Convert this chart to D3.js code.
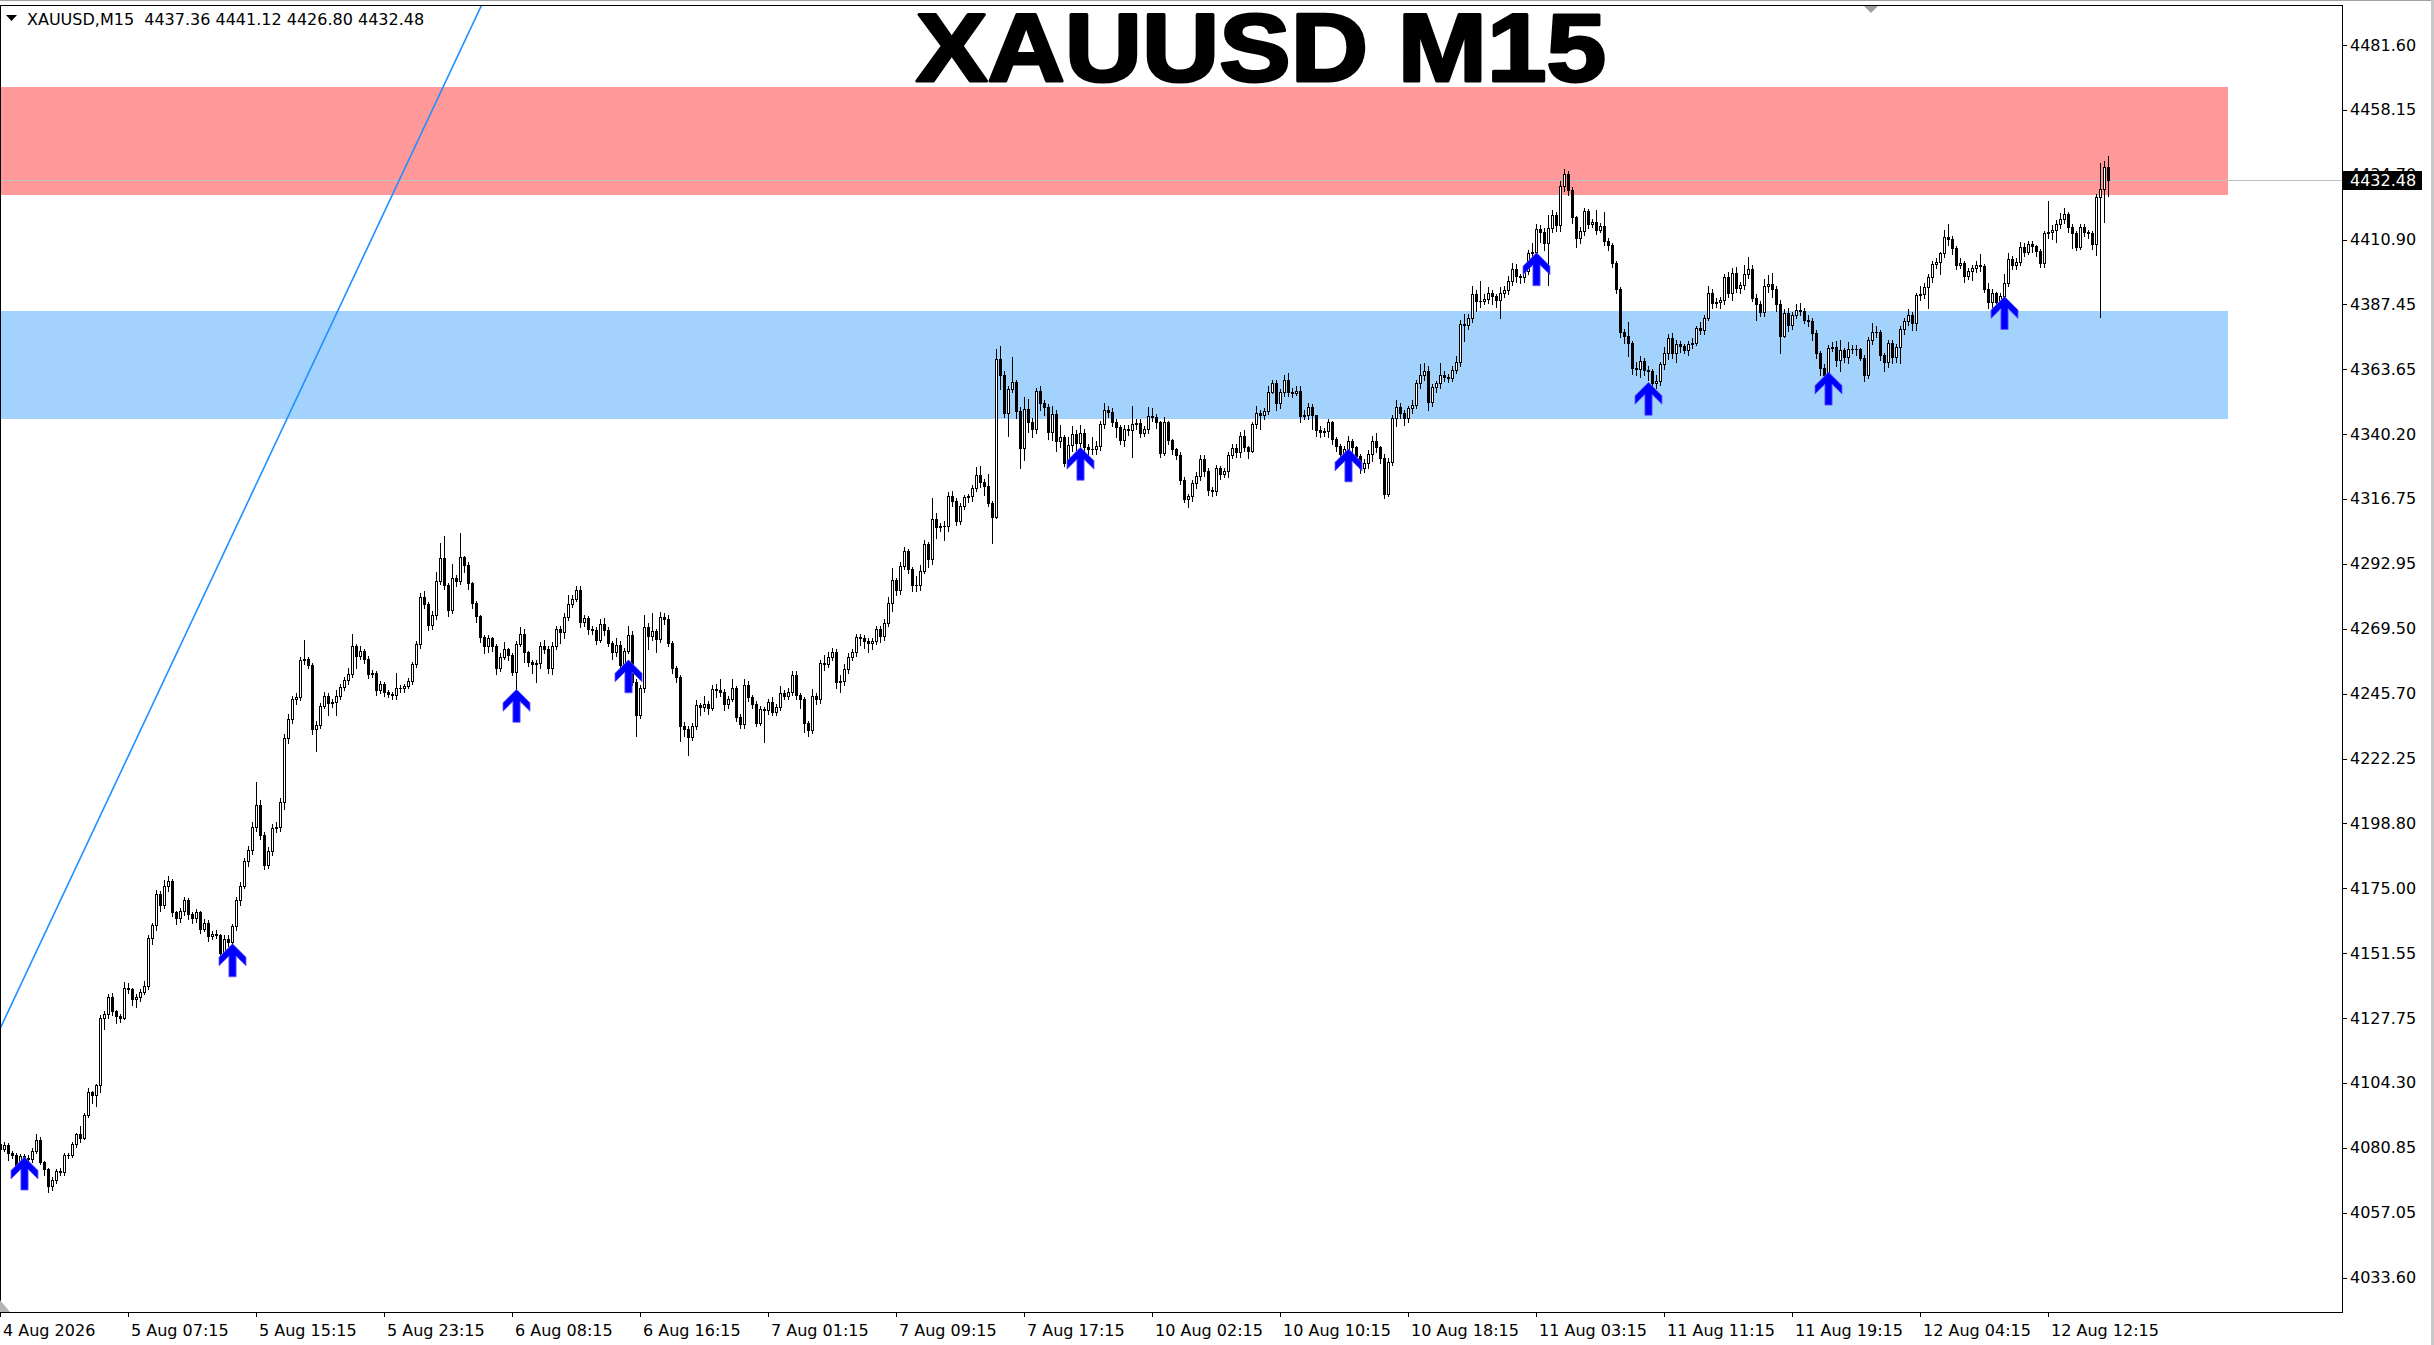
<!DOCTYPE html>
<html><head><meta charset="utf-8">
<script src="https://cdn.jsdelivr.net/npm/d3@7"></script>
<style>body{margin:0;background:#fff;overflow:hidden}</style>
</head><body>
<svg id="c" width="2434" height="1345"></svg>
<script>
const symbolInfo = "XAUUSD,M15  4437.36 4441.12 4426.80 4432.48";
const chartTitle = "XAUUSD M15";
const timeLabels = ["4 Aug 2026","5 Aug 07:15","5 Aug 15:15","5 Aug 23:15","6 Aug 08:15","6 Aug 16:15","7 Aug 01:15","7 Aug 09:15","7 Aug 17:15","10 Aug 02:15","10 Aug 10:15","10 Aug 18:15","11 Aug 03:15","11 Aug 11:15","11 Aug 19:15","12 Aug 04:15","12 Aug 12:15"];
const timeTickBars = [0,32,64,96,128,160,192,224,256,288,320,352,384,416,448,480,512];
const priceTicks = [4481.60,4458.15,4434.70,4410.90,4387.45,4363.65,4340.20,4316.75,4292.95,4269.50,4245.70,4222.25,4198.80,4175.00,4151.55,4127.75,4104.30,4080.85,4057.05,4033.60];
const lastPrice = 4432.48;
const firstOpen = 4082.3;
const closes = [
4080.3,4081.6,4078.9,4078.2,4074.2,4077.6,4076.9,4076.5,4079.6,4083.6,
4075.6,4072.9,4066.8,4069.2,4072.2,4071.8,4078.2,4078.0,4082.3,4085.6,
4084.3,4092.8,4101.1,4099.8,4103.4,4128.0,4129.4,4135.7,4130.3,4128.7,
4128.0,4138.8,4138.5,4134.7,4135.4,4137.4,4139.4,4156.9,4161.6,4173.1,
4169.0,4175.8,4177.8,4166.3,4164.3,4166.7,4170.8,4165.7,4164.3,4166.3,
4160.3,4162.5,4157.6,4158.3,4158.0,4151.5,4156.7,4155.6,4161.2,4170.7,
4176.0,4184.9,4188.9,4197.5,4205.4,4194.6,4183.6,4188.5,4197.0,4197.5,
4206.4,4229.6,4236.6,4243.7,4244.6,4258.1,4258.5,4256.2,4232.9,4234.3,
4241.4,4244.9,4242.3,4242.7,4245.0,4248.4,4250.8,4253.1,4263.2,4259.4,
4261.2,4258.5,4253.1,4253.4,4247.0,4249.5,4246.4,4245.7,4245.4,4248.0,
4247.7,4248.7,4250.4,4256.5,4263.9,4281.1,4278.4,4270.8,4274.4,4286.6,
4295.0,4285.4,4276.3,4287.8,4286.6,4295.4,4292.6,4286.0,4278.9,4274.1,
4266.3,4263.1,4266.0,4263.2,4255.3,4259.3,4262.1,4259.7,4253.8,4263.8,
4267.4,4260.8,4257.5,4256.5,4257.0,4263.3,4262.0,4255.1,4263.1,4269.2,
4268.1,4273.6,4278.4,4280.3,4283.5,4271.7,4273.2,4269.4,4269.0,4265.4,
4271.2,4269.0,4264.4,4260.8,4263.5,4256.3,4261.5,4267.2,4250.2,4238.1,
4247.8,4270.2,4266.9,4268.6,4265.6,4273.6,4273.1,4264.2,4255.1,4251.7,
4233.9,4232.9,4230.2,4233.9,4241.7,4240.9,4242.1,4240.5,4247.4,4247.0,
4246.6,4242.0,4243.8,4247.8,4237.5,4234.7,4249.0,4244.5,4242.1,4235.3,
4240.2,4239.7,4242.9,4239.3,4240.9,4246.0,4245.0,4246.6,4252.6,4245.4,
4243.9,4235.1,4232.6,4244.8,4243.9,4256.9,4256.5,4259.1,4260.9,4250.0,
4250.4,4254.7,4259.1,4260.9,4266.3,4266.0,4265.1,4264.1,4265.1,4269.2,
4266.6,4271.6,4278.7,4287.2,4283.5,4292.3,4297.7,4291.1,4285.4,4285.2,
4290.5,4300.1,4294.7,4309.2,4306.3,4306.6,4306.9,4317.7,4316.0,4308.4,
4314.1,4317.2,4317.5,4320.5,4325.3,4322.9,4321.3,4315.3,4310.2,4367.4,
4361.7,4348.0,4356.5,4359.0,4348.4,4335.1,4349.2,4344.4,4341.9,4355.9,
4351.6,4349.9,4341.1,4347.5,4337.8,4339.1,4329.6,4336.2,4340.1,4336.8,
4340.5,4335.4,4334.8,4334.7,4335.9,4343.8,4349.0,4348.1,4344.4,4342.7,
4338.1,4341.9,4341.7,4343.8,4344.1,4340.5,4341.9,4346.8,4346.5,4344.4,
4333.2,4344.4,4338.1,4334.7,4332.6,4323.5,4316.5,4317.5,4322.5,4325.0,
4331.0,4326.8,4319.9,4319.6,4327.8,4325.7,4326.9,4332.6,4335.1,4333.8,
4339.5,4335.4,4334.2,4343.8,4347.8,4347.1,4348.6,4355.6,4358.7,4351.4,
4355.4,4359.9,4355.6,4355.0,4356.0,4346.6,4347.2,4350.0,4347.2,4341.7,
4341.1,4341.3,4344.4,4338.3,4335.9,4333.0,4334.7,4337.5,4335.4,4332.2,
4327.8,4329.6,4333.0,4337.7,4335.3,4331.4,4318.3,4330.2,4345.9,4350.0,
4347.8,4345.9,4349.6,4350.8,4358.7,4361.5,4363.1,4352.0,4357.2,4358.7,
4361.5,4361.1,4360.5,4363.5,4366.2,4380.1,4379.9,4382.3,4391.1,4388.4,
4388.7,4389.2,4391.4,4390.2,4388.9,4391.6,4392.6,4395.9,4400.1,4397.7,
4397.2,4399.3,4405.9,4406.2,4414.6,4413.8,4409.8,4415.0,4419.9,4416.2,
4430.4,4434.6,4428.9,4418.9,4411.4,4414.0,4421.1,4416.6,4417.1,4414.4,
4415.9,4410.5,4409.0,4402.5,4392.8,4377.4,4375.9,4373.2,4364.1,4363.8,
4366.8,4363.5,4363.0,4358.7,4359.5,4365.6,4369.8,4375.0,4369.6,4372.8,
4372.2,4370.8,4372.8,4373.4,4378.7,4378.0,4382.5,4391.6,4387.7,4388.3,
4388.9,4397.4,4391.6,4398.6,4393.2,4394.4,4398.3,4400.1,4389.8,4387.4,
4384.5,4394.0,4394.6,4392.8,4387.4,4376.0,4384.3,4379.9,4383.5,4385.3,
4384.9,4381.7,4381.4,4376.8,4369.6,4364.1,4361.7,4371.4,4372.0,4367.1,
4370.8,4368.1,4371.0,4371.1,4371.1,4367.7,4361.7,4374.4,4377.1,4377.4,
4368.9,4366.5,4373.4,4368.3,4372.0,4378.3,4381.1,4383.5,4380.7,4390.8,
4391.0,4393.8,4397.1,4401.9,4402.6,4405.9,4411.7,4411.0,4407.7,4401.7,
4402.5,4397.7,4399.6,4400.5,4401.7,4401.3,4393.0,4388.3,4391.4,4388.3,
4390.4,4395.0,4403.8,4401.7,4402.9,4408.1,4406.5,4409.2,4408.6,4406.8,
4402.3,4413.2,4413.5,4414.4,4416.6,4418.3,4420.1,4415.4,4413.2,4408.3,
4415.4,4413.8,4413.2,4409.3,4426.5,4429.2,4437.36,4432.48];
const highs = [
4084.0,4083.0,4082.5,4079.5,4078.9,4078.5,4078.5,4078.0,4080.5,4085.6,
4084.5,4076.0,4073.5,4070.0,4073.0,4073.5,4079.0,4079.0,4083.0,4086.3,
4088.6,4093.5,4102.5,4101.5,4104.0,4129.0,4130.5,4136.5,4137.0,4131.0,
4129.5,4141.0,4140.5,4139.0,4136.5,4138.5,4141.5,4158.0,4162.5,4174.5,
4174.0,4178.0,4179.5,4178.5,4167.0,4168.0,4172.0,4171.5,4166.5,4167.5,
4167.0,4164.0,4163.5,4159.5,4160.0,4158.5,4158.0,4158.0,4162.0,4172.0,
4177.5,4186.0,4190.5,4199.0,4213.8,4207.0,4195.5,4190.0,4198.5,4199.0,
4208.0,4231.0,4238.5,4245.0,4246.0,4259.0,4265.2,4259.0,4257.0,4236.0,
4242.5,4246.5,4246.0,4244.0,4247.0,4249.5,4252.0,4255.0,4267.6,4264.0,
4263.0,4262.0,4259.5,4254.5,4254.0,4250.5,4250.0,4247.0,4246.5,4253.5,
4249.0,4249.5,4251.5,4257.5,4265.0,4282.5,4283.0,4279.0,4276.0,4290.0,
4300.5,4303.2,4286.0,4293.0,4289.0,4304.1,4296.0,4293.5,4286.5,4279.5,
4274.5,4267.0,4267.0,4266.5,4264.0,4260.5,4264.5,4262.5,4260.5,4265.0,
4270.0,4269.5,4261.5,4258.0,4258.0,4264.5,4265.5,4263.0,4264.5,4270.5,
4270.5,4275.0,4281.5,4281.5,4285.0,4285.0,4274.5,4274.0,4270.5,4270.0,
4273.0,4273.5,4270.0,4265.0,4266.0,4265.0,4262.5,4270.5,4268.5,4251.0,
4249.0,4274.4,4271.5,4275.3,4269.5,4275.5,4275.3,4274.5,4265.0,4256.0,
4252.5,4235.5,4234.0,4235.0,4243.5,4242.5,4245.0,4243.0,4249.0,4249.5,
4251.0,4247.5,4245.0,4251.0,4248.5,4238.5,4251.0,4250.5,4245.5,4243.0,
4241.5,4241.0,4244.0,4244.5,4242.0,4248.5,4247.0,4248.0,4254.0,4254.0,
4246.0,4244.5,4236.0,4247.5,4246.0,4258.0,4260.0,4261.0,4262.5,4262.0,
4252.5,4256.5,4260.5,4262.0,4267.5,4267.5,4267.0,4266.0,4266.0,4270.5,
4270.5,4273.0,4281.0,4291.4,4288.0,4293.5,4299.0,4298.5,4292.0,4288.5,
4292.5,4301.5,4301.0,4316.9,4311.5,4308.0,4308.5,4319.0,4319.5,4317.0,
4315.0,4318.0,4318.5,4321.5,4328.1,4328.5,4324.0,4325.5,4316.0,4371.0,
4372.2,4363.0,4357.5,4368.1,4360.0,4350.0,4353.5,4353.0,4346.0,4357.0,
4357.5,4352.5,4351.0,4350.5,4349.0,4343.5,4340.0,4339.0,4343.0,4341.5,
4343.5,4342.0,4336.5,4339.0,4337.5,4345.0,4351.5,4350.5,4349.5,4345.5,
4343.5,4343.5,4343.5,4350.4,4345.5,4345.5,4343.0,4350.0,4349.5,4347.5,
4345.0,4346.5,4345.0,4338.5,4335.0,4333.5,4324.5,4318.5,4323.5,4326.5,
4332.5,4332.5,4328.0,4321.0,4329.0,4328.5,4328.0,4333.5,4336.5,4336.5,
4341.0,4341.5,4336.0,4344.5,4350.5,4349.0,4349.5,4357.5,4360.0,4360.0,
4356.5,4361.5,4362.5,4357.0,4357.5,4357.5,4349.0,4351.5,4351.0,4346.5,
4343.0,4342.5,4345.5,4345.0,4339.0,4336.5,4336.0,4339.5,4338.5,4336.0,
4333.0,4331.0,4334.5,4339.5,4340.5,4336.0,4333.0,4331.5,4347.0,4352.5,
4351.5,4349.0,4350.5,4352.5,4360.0,4365.5,4366.0,4365.0,4358.5,4359.5,
4366.0,4363.0,4362.0,4365.0,4368.5,4381.5,4383.7,4384.0,4394.0,4392.5,
4395.9,4391.0,4393.5,4392.5,4391.0,4393.5,4394.0,4397.5,4402.5,4402.0,
4398.5,4400.5,4407.0,4409.8,4416.6,4416.0,4415.0,4419.9,4421.5,4421.0,
4432.0,4436.5,4435.9,4430.0,4419.5,4415.5,4422.5,4421.9,4418.5,4421.5,
4417.0,4421.0,4411.5,4409.5,4403.0,4393.5,4378.5,4381.0,4374.0,4366.5,
4368.5,4368.0,4365.0,4363.8,4361.5,4366.5,4372.0,4376.5,4377.0,4374.5,
4374.0,4373.0,4374.0,4375.0,4379.5,4381.0,4383.5,4394.0,4393.0,4389.5,
4390.0,4398.5,4399.0,4400.5,4401.0,4395.5,4401.5,4404.5,4401.5,4391.0,
4388.5,4396.5,4398.0,4398.9,4394.0,4389.0,4385.5,4386.0,4384.5,4387.5,
4388.0,4386.0,4383.5,4382.5,4378.0,4370.5,4365.5,4372.5,4373.5,4374.0,
4374.5,4371.5,4373.5,4372.5,4372.5,4371.5,4369.0,4375.5,4380.5,4379.5,
4378.0,4369.5,4374.5,4374.5,4373.0,4379.5,4382.5,4385.5,4384.5,4391.5,
4394.0,4395.0,4398.5,4403.0,4404.0,4406.5,4414.3,4416.6,4412.0,4408.5,
4404.0,4403.0,4400.5,4401.5,4403.0,4405.5,4402.0,4395.0,4393.0,4392.0,
4391.5,4398.5,4406.0,4405.0,4404.0,4410.0,4409.5,4410.5,4410.5,4409.0,
4407.5,4414.0,4424.9,4416.0,4418.0,4420.5,4422.5,4421.0,4416.5,4414.0,
4416.5,4416.5,4414.5,4414.0,4427.5,4438.6,4439.5,4441.12];
const lows = [
4079.0,4079.5,4076.2,4077.0,4073.5,4073.5,4075.5,4075.0,4075.5,4079.0,
4075.0,4071.0,4064.8,4065.5,4068.0,4071.0,4071.0,4077.0,4077.5,4081.0,
4083.0,4084.0,4092.0,4097.0,4096.0,4101.0,4124.0,4128.0,4129.0,4126.0,
4126.5,4127.5,4137.0,4132.5,4132.0,4134.0,4136.5,4138.5,4155.0,4160.0,
4167.0,4168.0,4174.0,4165.0,4162.0,4163.0,4165.5,4164.0,4162.5,4163.0,
4159.0,4159.5,4156.0,4156.5,4157.0,4149.5,4150.5,4154.0,4154.5,4160.0,
4169.0,4175.0,4183.0,4187.5,4196.0,4193.0,4182.0,4182.5,4187.0,4195.5,
4196.0,4204.0,4228.0,4235.0,4242.0,4243.5,4256.5,4255.0,4231.0,4224.9,
4233.5,4240.5,4238.0,4241.0,4238.0,4244.0,4247.0,4249.5,4252.0,4255.0,
4258.5,4257.0,4251.5,4252.0,4245.5,4246.0,4245.0,4244.5,4244.0,4244.0,
4246.5,4246.5,4248.0,4249.5,4255.5,4262.5,4277.0,4269.0,4269.5,4273.0,
4285.5,4284.0,4274.0,4275.0,4285.0,4285.5,4290.0,4284.0,4277.0,4272.0,
4264.5,4260.5,4261.0,4261.5,4253.0,4254.0,4258.5,4258.0,4252.5,4247.2,
4263.0,4257.5,4256.0,4253.5,4250.0,4255.0,4260.5,4253.5,4253.0,4262.0,
4264.2,4266.0,4272.5,4277.5,4279.5,4270.0,4270.5,4267.5,4267.5,4264.0,
4264.5,4267.0,4263.0,4258.5,4259.5,4255.0,4255.5,4260.5,4249.0,4230.6,
4237.0,4246.5,4262.0,4265.5,4261.0,4264.5,4271.0,4263.0,4253.5,4250.0,
4228.5,4230.5,4223.6,4229.0,4233.0,4238.0,4239.5,4238.5,4240.0,4244.5,
4245.0,4240.0,4240.5,4243.0,4236.0,4233.5,4233.5,4243.0,4240.5,4234.0,
4234.5,4228.4,4238.5,4238.0,4238.0,4240.0,4244.0,4244.0,4245.5,4244.0,
4240.5,4232.0,4230.5,4231.5,4242.0,4242.5,4254.5,4255.5,4258.0,4248.0,
4246.5,4249.0,4253.5,4258.0,4259.5,4263.5,4262.5,4261.0,4262.0,4264.0,
4264.5,4265.5,4270.5,4276.0,4281.5,4282.0,4291.0,4289.5,4283.0,4283.0,
4283.5,4289.5,4292.0,4293.0,4302.5,4305.0,4301.5,4305.0,4314.0,4307.0,
4307.5,4313.0,4315.5,4316.0,4319.5,4321.0,4318.0,4314.0,4300.7,4309.5,
4356.5,4346.5,4339.3,4355.5,4346.0,4327.8,4330.8,4341.0,4339.0,4340.5,
4349.0,4347.0,4338.5,4338.0,4334.0,4335.5,4328.5,4328.5,4334.0,4334.5,
4335.0,4333.5,4331.0,4333.0,4333.0,4334.5,4342.5,4346.5,4343.0,4339.0,
4336.5,4336.0,4340.0,4332.0,4342.0,4339.0,4339.5,4340.5,4345.0,4342.5,
4332.0,4332.5,4336.5,4333.0,4331.0,4322.0,4315.5,4313.6,4316.0,4320.5,
4323.5,4325.0,4318.0,4317.5,4318.0,4324.0,4324.5,4324.5,4331.5,4332.0,
4332.0,4334.0,4331.5,4333.5,4342.5,4342.0,4345.5,4347.5,4355.0,4349.0,
4349.5,4354.0,4354.0,4353.5,4354.5,4344.5,4345.5,4345.5,4342.0,4339.5,
4339.0,4339.5,4339.0,4336.5,4334.0,4331.5,4331.5,4333.5,4333.0,4330.5,
4326.0,4326.5,4328.0,4330.5,4333.5,4329.5,4316.9,4317.5,4329.0,4343.0,
4346.0,4343.5,4344.5,4348.0,4349.5,4357.0,4360.0,4349.0,4350.5,4355.5,
4357.0,4359.5,4359.0,4359.5,4362.5,4365.0,4374.0,4378.5,4381.0,4385.0,
4386.5,4387.5,4388.0,4387.5,4386.5,4382.3,4390.0,4391.0,4394.5,4395.5,
4395.0,4395.5,4398.5,4404.5,4405.0,4410.0,4407.0,4394.5,4413.5,4414.0,
4414.0,4428.5,4427.0,4417.0,4408.3,4409.5,4412.5,4415.0,4415.5,4413.0,
4413.5,4409.0,4407.0,4401.0,4391.5,4375.5,4373.2,4368.5,4362.0,4361.5,
4361.0,4361.5,4360.0,4357.5,4357.0,4358.0,4364.0,4367.5,4368.0,4366.5,
4370.0,4369.5,4369.0,4371.5,4372.5,4376.5,4376.5,4381.5,4386.0,4386.5,
4386.0,4387.5,4390.0,4389.0,4392.0,4391.5,4393.0,4397.0,4388.5,4381.7,
4383.0,4383.0,4392.0,4390.0,4385.0,4369.6,4375.3,4377.5,4378.5,4382.5,
4383.5,4380.5,4379.5,4374.5,4368.0,4361.5,4360.0,4360.0,4370.5,4365.0,
4363.0,4366.5,4366.0,4369.5,4369.0,4367.0,4359.5,4360.5,4373.0,4375.5,
4367.0,4363.0,4364.5,4366.0,4366.5,4366.0,4376.5,4380.0,4378.0,4378.0,
4389.0,4389.5,4386.0,4395.5,4400.5,4398.5,4404.5,4409.0,4405.5,4400.0,
4400.5,4395.5,4396.5,4396.0,4399.0,4399.5,4392.0,4386.0,4386.5,4386.0,
4387.0,4389.0,4394.0,4400.0,4400.0,4401.5,4405.0,4405.5,4406.5,4405.0,
4401.0,4401.0,4411.5,4411.0,4410.0,4415.0,4417.0,4413.5,4407.7,4407.0,
4407.5,4412.0,4411.5,4407.5,4405.3,4382.9,4417.2,4426.80];
const arrowBars = [6,58,129,157,270,337,384,412,457,501];
const arrowPrices = [4077.4,4154.9,4247.4,4258.1,4335.4,4334.8,4406.1,4359.0,4362.7,4390.2];
const resistanceZone = [4466.3, 4426.9];
const supportZone = [4385.0, 4345.6];
const zoneBars = [-20, 557];
const trendBars = [0, 116];
const trendPrices = [4124.0, 4482.5];

const svg = d3.select("#c");
const plot = {left: 0, right: 2342, top: 5, bottom: 1312};
const x = d3.scaleLinear().domain([0, closes.length - 1]).range([0, 2108]);
const y = d3.scaleLinear().domain([4033.6, 4481.6]).range([1277.5, 45]);
const candles = closes.map((c, i) => ({i, o: i === 0 ? firstOpen : closes[i - 1], h: highs[i], l: lows[i], c}));

svg.append("rect").attr("width", 2434).attr("height", 1345).attr("fill", "#fff");
svg.append("defs").append("clipPath").attr("id", "clip").append("rect")
  .attr("x", plot.left).attr("y", plot.top + 1).attr("width", plot.right - plot.left).attr("height", plot.bottom - plot.top - 1);

const g = svg.append("g").attr("clip-path", "url(#clip)").attr("shape-rendering", "crispEdges");

// zones
[[resistanceZone, "#ff9999"], [supportZone, "#a3d2fd"]].forEach(([z, col]) => {
  g.append("rect").attr("x", x(zoneBars[0])).attr("width", x(zoneBars[1]) - x(zoneBars[0]))
    .attr("y", Math.round(y(z[0]))).attr("height", Math.round(y(z[1])) - Math.round(y(z[0])))
    .attr("fill", col);
});

// last price line
g.append("line").attr("x1", plot.left).attr("x2", plot.right)
  .attr("y1", Math.round(y(lastPrice)) + 0.5).attr("y2", Math.round(y(lastPrice)) + 0.5)
  .attr("stroke", "#c0c0c0").attr("stroke-width", 1);

// trendline (ray through the two anchors)
const slope = (trendPrices[1] - trendPrices[0]) / (trendBars[1] - trendBars[0]);
const tb0 = -10, tb1 = 160;
svg.append("g").attr("clip-path", "url(#clip)").append("line")
  .attr("x1", x(tb0)).attr("y1", y(trendPrices[0] + slope * (tb0 - trendBars[0])))
  .attr("x2", x(tb1)).attr("y2", y(trendPrices[0] + slope * (tb1 - trendBars[0])))
  .attr("stroke", "#1e90ff").attr("stroke-width", 1.6);

// candles
const cg = svg.append("g").attr("clip-path", "url(#clip)").attr("shape-rendering", "crispEdges");
const cxOf = d => Math.round(x(d.i));
cg.selectAll("rect.wick").data(candles).join("rect").attr("class", "wick")
  .attr("x", d => cxOf(d)).attr("width", 1)
  .attr("y", d => Math.round(y(Math.max(d.h, d.o, d.c))))
  .attr("height", d => Math.round(y(Math.min(d.l, d.o, d.c))) - Math.round(y(Math.max(d.h, d.o, d.c))) + 1)
  .attr("fill", "#000");
const bt = d => Math.round(y(Math.max(d.o, d.c)));
const bb = d => Math.round(y(Math.min(d.o, d.c)));
cg.selectAll("rect.body").data(candles).join("rect").attr("class", "body")
  .attr("x", d => cxOf(d) - 1).attr("width", 3)
  .attr("y", bt).attr("height", d => bb(d) - bt(d) + 1)
  .attr("fill", "#000");
cg.selectAll("rect.inner").data(candles.filter(d => d.c > d.o && bb(d) - bt(d) >= 2)).join("rect").attr("class", "inner")
  .attr("x", d => cxOf(d)).attr("width", 1)
  .attr("y", d => bt(d) + 1).attr("height", d => bb(d) - bt(d) - 1)
  .attr("fill", "#fff");

// arrows
const arrowShape = "M0,0 L13.5,13.5 L13.5,22 L3.6,12.2 L3.6,33 L-3.6,33 L-3.6,12.2 L-13.5,22 L-13.5,13.5 Z";
svg.append("g").selectAll("path").data(arrowBars.map((b, k) => ({b, p: arrowPrices[k]}))).join("path")
  .attr("d", arrowShape)
  .attr("transform", d => `translate(${x(d.b) + 0.5},${y(d.p)})`)
  .attr("fill", "#0000ff").attr("stroke", "#6a5cff").attr("stroke-width", 0.8);

// frame
svg.append("rect").attr("x", plot.left + 0.5).attr("y", plot.top + 0.5)
  .attr("width", plot.right - plot.left).attr("height", plot.bottom - plot.top)
  .attr("fill", "none").attr("stroke", "#000").attr("shape-rendering", "crispEdges");
svg.append("line").attr("x1", 0).attr("x2", 2434).attr("y1", 0.5).attr("y2", 0.5).attr("stroke", "#a0a0a0");
svg.append("rect").attr("x", 2431).attr("y", 0).attr("width", 3).attr("height", 1345).attr("fill", "#c8c8c8");
svg.append("polygon").attr("points", "1864,6 1878,6 1871,13").attr("fill", "#a0a0a0");
svg.append("polygon").attr("points", "0,1300 10,1312 0,1312").attr("fill", "#b4b4b4");

// price axis
const pa = svg.append("g");
pa.selectAll("line").data(priceTicks).join("line")
  .attr("x1", plot.right + 1).attr("x2", plot.right + 5)
  .attr("y1", d => Math.round(y(d)) + 0.5).attr("y2", d => Math.round(y(d)) + 0.5)
  .attr("stroke", "#000").attr("shape-rendering", "crispEdges");
pa.selectAll("text").data(priceTicks).join("text")
  .attr("x", plot.right + 8).attr("y", d => y(d))
  .attr("dominant-baseline", "central")
  .attr("font-family", "DejaVu Sans, Verdana, sans-serif").attr("font-size", 16).attr("fill", "#000")
  .text(d => d.toFixed(2));
pa.append("rect").attr("x", plot.right + 1).attr("y", Math.round(y(lastPrice)) - 9)
  .attr("width", 79).attr("height", 19).attr("fill", "#000");
pa.append("text").attr("x", plot.right + 8).attr("y", y(lastPrice) + 0.5)
  .attr("dominant-baseline", "central")
  .attr("font-family", "DejaVu Sans, Verdana, sans-serif").attr("font-size", 16).attr("fill", "#fff")
  .text(lastPrice.toFixed(2));

// time axis
const ta = svg.append("g");
ta.selectAll("line").data(timeTickBars).join("line")
  .attr("x1", d => Math.round(x(d)) + 0.5).attr("x2", d => Math.round(x(d)) + 0.5)
  .attr("y1", plot.bottom + 1).attr("y2", plot.bottom + 5)
  .attr("stroke", "#000").attr("shape-rendering", "crispEdges");
ta.selectAll("text").data(timeTickBars).join("text")
  .attr("x", d => x(d) + 3).attr("y", 1336)
  .attr("font-family", "DejaVu Sans, Verdana, sans-serif").attr("font-size", 16).attr("fill", "#000")
  .text((d, k) => timeLabels[k]);

// header
svg.append("polygon").attr("points", "6,15 17,15 11.5,21").attr("fill", "#000");
svg.append("text").attr("x", 27).attr("y", 25).style("white-space", "pre")
  .attr("font-family", "DejaVu Sans, Verdana, sans-serif").attr("font-size", 16).attr("fill", "#000")
  .text(symbolInfo);

// title
svg.append("text").attr("x", 1261).attr("y", 81).attr("text-anchor", "middle")
  .attr("font-family", "Liberation Sans, Arial, sans-serif").attr("font-weight", 900).attr("font-size", 96)
  .attr("textLength", 690).attr("lengthAdjust", "spacingAndGlyphs")
  .attr("fill", "#000").attr("stroke", "#000").attr("stroke-width", 3).attr("stroke-linejoin", "round")
  .text(chartTitle);
</script>
</body></html>
